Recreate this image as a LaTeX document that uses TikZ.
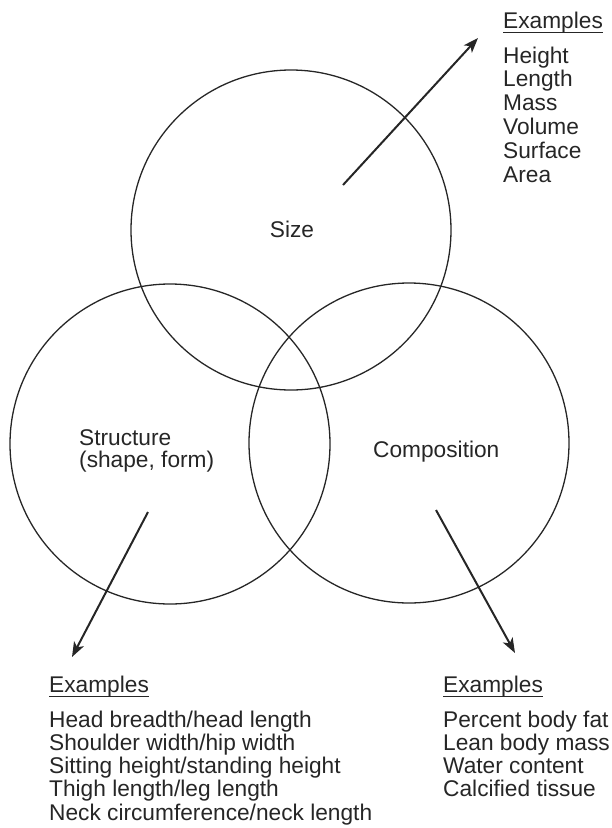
\documentclass[tikz,border=0pt]{standalone}
\usepackage{fontspec}
\setmainfont{Liberation Sans}
\usetikzlibrary{arrows.meta}

\begin{document}
\begin{tikzpicture}[x=1pt,y=-1pt,
    ring/.style={circle,draw=black!85,line width=1.3pt,minimum size=320pt,inner sep=0pt},
    lbl/.style={inner sep=0pt,anchor=base west,font=\fontsize{22.7}{24}\selectfont,text=black!85},
    pointer/.style={draw=black!85,line width=2pt,-{Stealth[length=15pt,width=11pt,inset=4pt]}}]

    \useasboundingbox (0,0) rectangle (611,828);

    % the three circles
    \node[ring] (size) at (291,230) {};
    \node[ring] (struct) at (170,444) {};
    \node[ring] (comp) at (409,443) {};

    % circle labels
    \node[lbl,anchor=base] (sizetxt) at (292,237) {Size};
    \node[lbl] (structtxt) at (79,445) {Structure};
    \node[lbl] (shapetxt) at (79,467) {(shape, form)};
    \node[lbl] (comptxt) at (373,457) {Composition};

    % arrows out of the circles
    \coordinate (a1) at (343,185);
    \coordinate (t1) at (478,38);
    \coordinate (a2) at (148,512);
    \coordinate (t2) at (72,657);
    \coordinate (a3) at (436,510);
    \coordinate (t3) at (515,653);
    \draw[pointer] (a1) -- (t1);
    \draw[pointer] (a2) -- (t2);
    \draw[pointer] (a3) -- (t3);

    % example headings
    \node[lbl] (ex1) at (503,28) {Examples};
    \node[lbl] (ex2) at (49,692) {Examples};
    \node[lbl] (ex3) at (443,692) {Examples};
    \foreach \e in {ex1,ex2,ex3}
        \draw[black!85,line width=0.9pt] ([yshift=-4pt]\e.base west) -- ([yshift=-4pt]\e.base east);

    % example lists
    \foreach \t [count=\i] in {Height,Length,Mass,Volume,Surface,Area}
        \node[lbl] (sz\i) at (503,{63+23.8*(\i-1)}) {\t};
    \foreach \t [count=\i] in {Head breadth/head length,Shoulder width/hip width,Sitting height/standing height,Thigh length/leg length,Neck circumference/neck length}
        \node[lbl] (st\i) at (49,{727+23.3*(\i-1)}) {\t};
    \foreach \t [count=\i] in {Percent body fat,Lean body mass,Water content,Calcified tissue}
        \node[lbl] (cp\i) at (443,{727+23.3*(\i-1)}) {\t};

\end{tikzpicture}
\end{document}
